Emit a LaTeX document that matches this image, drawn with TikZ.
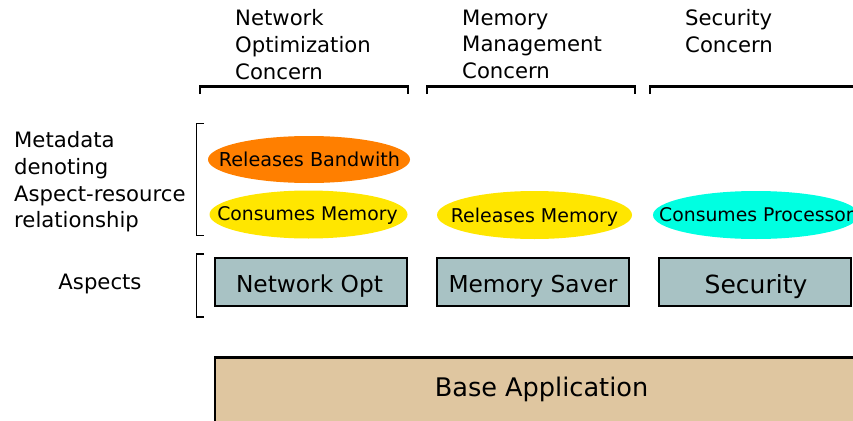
\documentclass[tikz,border=0pt]{standalone}
\usepackage{fontspec}
\setmainfont{DejaVu Sans}
\definecolor{corange}{HTML}{FF7F00}
\definecolor{cyellow}{HTML}{FFE600}
\definecolor{ccyan}{HTML}{00FFE1}
\definecolor{cbox}{HTML}{A8C2C4}
\definecolor{cbase}{HTML}{DFC6A0}
\tikzset{
  lbl/.style={anchor=north west, inner sep=0pt, align=left, font=\fontsize{21.2}{26.7}\selectfont},
  tagtext/.style={inner sep=0pt, text depth=0pt, font=\fontsize{19}{22}\selectfont},
  aspectbox/.style={draw=black, line width=2pt, fill=cbox, minimum width=192pt, minimum height=48pt, inner sep=0pt},
  boxtext/.style={inner sep=0pt, text depth=0pt, font=\fontsize{23.3}{28}\selectfont},
  topbracket/.style={line width=2.2pt},
  sidebracket/.style={line width=1.3pt}
}
\begin{document}
\begin{tikzpicture}[x=1pt,y=-1pt]
\useasboundingbox (0,0) rectangle (853,420);
\clip (0,0) rectangle (853,420);
% concern labels
\node[lbl] (cnet) at (235,9.5) {Network\\Optimization\\Concern};
\node[lbl] (cmem) at (462,9.5) {Memory\\Management\\Concern};
\node[lbl] (csec) at (685,9.5) {Security\\Concern};
% top brackets
\coordinate (b1a) at (200,94); \coordinate (b1b) at (408,94);
\coordinate (b2a) at (427,94); \coordinate (b2b) at (635,94);
\coordinate (b3a) at (650,94); \coordinate (b3b) at (870,94);
\draw[topbracket] (b1a) -- ++(0,-7.5) -| (b1b);
\draw[topbracket] (b2a) -- ++(0,-7.5) -| (b2b);
\draw[topbracket] (b3a) -- ++(0,-7.5) -| (b3b);
% left labels
\node[lbl] (meta) at (14,131.5) {Metadata\\denoting\\Aspect-resource\\relationship};
\node[inner sep=0pt, text depth=0pt, font=\fontsize{21.2}{26}\selectfont] (asp) at (100,281.5) {Aspects};
% side brackets
\coordinate (s1a) at (204,123.5); \coordinate (s1b) at (204,235.5);
\draw[sidebracket] (s1a) -- ++(-7.5,0) |- (s1b);
\coordinate (s2a) at (204,254); \coordinate (s2b) at (204,317);
\draw[sidebracket] (s2a) -- ++(-7.5,0) |- (s2b);
% metadata ellipses
\fill[corange] (309,159.5) ellipse [x radius=101, y radius=23.5];
\node[tagtext, font=\fontsize{19.2}{22}\selectfont] (rbw) at (309.5,159.5) {Releases Bandwith};
\fill[cyellow] (308.5,214.5) ellipse [x radius=99, y radius=24];
\node[tagtext, font=\fontsize{18.8}{22}\selectfont] (cmemo) at (307.5,214) {Consumes Memory};
\fill[cyellow] (534.5,215) ellipse [x radius=97.5, y radius=24];
\node[tagtext] (rmem) at (534.5,215) {Releases Memory};
\fill[ccyan] (756,215) ellipse [x radius=103, y radius=24];
\node[tagtext, font=\fontsize{18.8}{22}\selectfont, anchor=west] (cproc) at (659,215) {Consumes Processor};
% aspects
\node[aspectbox] (anet) at (311,282) {};
\node[boxtext] (anett) at (309.5,283.5) {Network Opt};
\node[aspectbox] (amem) at (533,282) {};
\node[boxtext] (amemt) at (533,283.5) {Memory Saver};
\node[aspectbox] (asec) at (755,282) {};
\node[boxtext, font=\fontsize{25}{30}\selectfont] (asect) at (756,284) {Security};
% base application
\filldraw[draw=black, line width=2.8pt, fill=cbase] (215,357.5) rectangle (900,450);
\node[boxtext, font=\fontsize{25.6}{30}\selectfont] (basetxt) at (541.5,387) {Base Application};
\end{tikzpicture}
\end{document}
